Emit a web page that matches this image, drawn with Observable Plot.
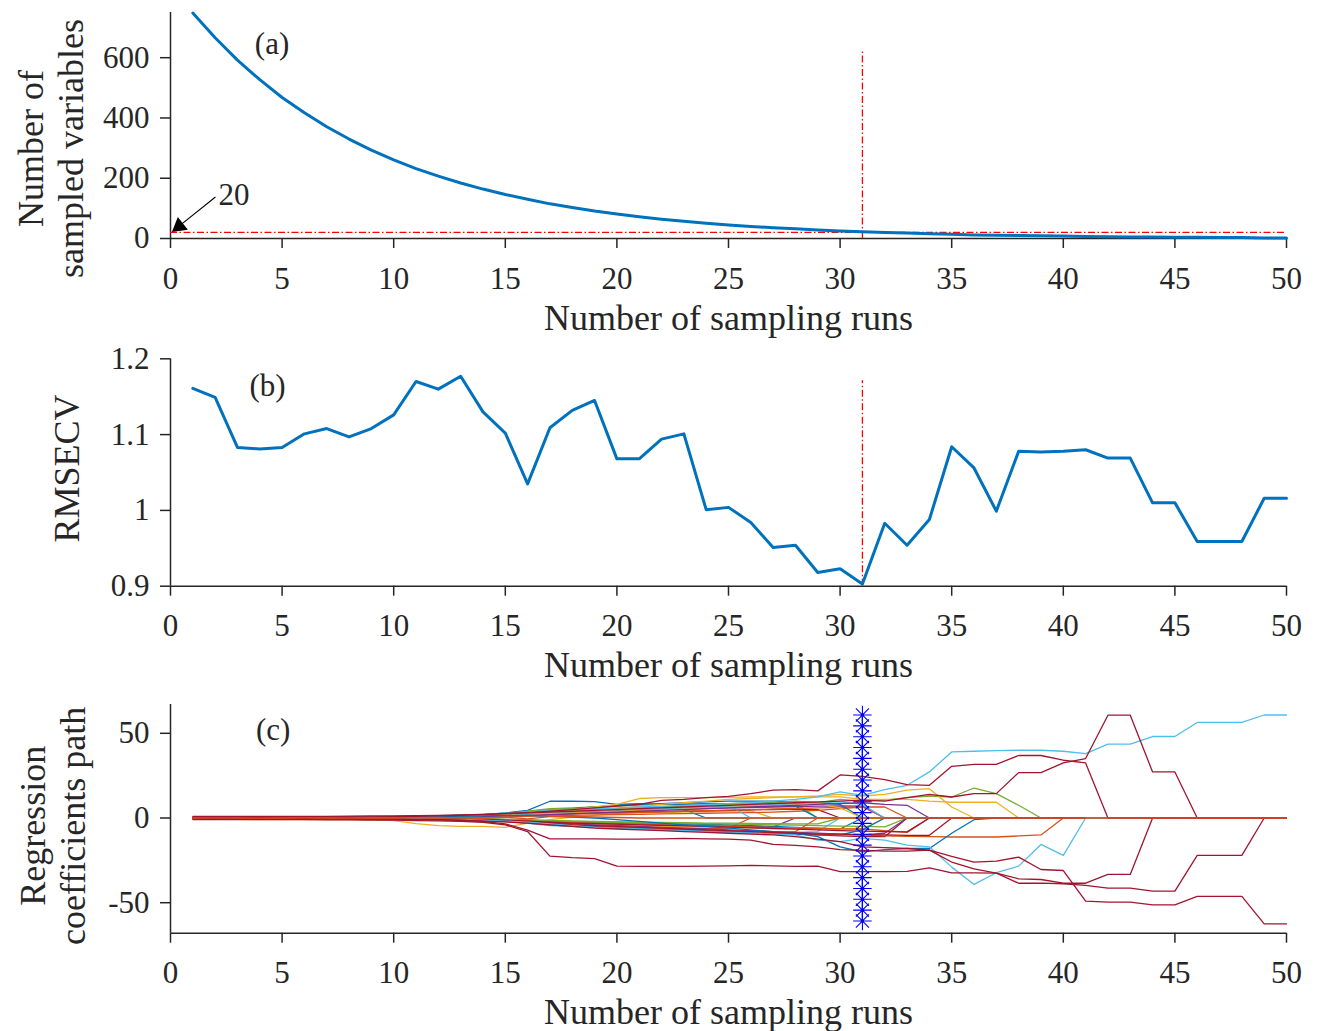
<!DOCTYPE html>
<html><head><meta charset="utf-8">
<script src="https://cdn.jsdelivr.net/npm/d3@7"></script>
<script src="https://cdn.jsdelivr.net/npm/@observablehq/plot@0.6"></script>
<style>
body{margin:0;background:#fff;}
#chart svg{display:block;}
</style></head><body><div id="chart"></div>
<script>
// ---------------- DATA ----------------
const runs = [1,2,3,4,5,6,7,8,9,10,11,12,13,14,15,16,17,18,19,20,21,22,23,24,25,26,27,28,29,30,31,32,33,34,35,36,37,38,39,40,41,42,43,44,45,46,47,48,49,50];
const xTicks = [0,5,10,15,20,25,30,35,40,45,50];

// (a) number of sampled variables per run
const nVars = [748,666,592,527,468,417,371,330,293,261,232,207,184,164,146,130,115,103,91,81,72,64,57,51,45,40,36,32,28,25,22,20,18,16,14,12,11,10,9,8,7,6,5,5,4,4,3,3,2,2];
const yTicksA = [0,200,400,600];
const optRun = 31;
const refLevel = 20;
const optLineTopA = 624;

// (b) RMSECV per run
const rmsecv = [1.161,1.149,1.083,1.081,1.083,1.101,1.108,1.097,1.108,1.126,1.170,1.160,1.177,1.130,1.102,1.035,1.109,1.132,1.145,1.068,1.068,1.094,1.101,1.001,1.004,0.984,0.951,0.954,0.918,0.923,0.903,0.983,0.954,0.988,1.084,1.056,0.999,1.078,1.077,1.078,1.080,1.069,1.069,1.010,1.010,0.959,0.959,0.959,1.016,1.016];
const yTicksB = [0.9,1,1.1,1.2];
const optLineTopB = 1.171;

// (c) regression coefficient paths (one array per variable)
const coefPaths = [
 [0,0.1,0.1,0.1,0.2,0.2,0.2,0.3,0.3,0.4, 0.5,0.6,0.8,1,1.5,2.2,3,3.5,4,4.5, 5,5.2,5,0,0,0,0,0,0,0, 0,0,0,0,0,0,0,0,0,0, 0,0,0,0,0,0,0,0,0,0],
 [0,-0.1,-0.1,-0.1,-0.2,-0.2,-0.3,-0.3,-0.4,-0.5, -0.6,-0.8,-1,-1.3,-1.8,-2.5,-3.5,-4,-4.5,-5, -5.5,-5.8,-6,-6.2,-6,0,0,0,0,0, 0,0,0,0,0,0,0,0,0,0, 0,0,0,0,0,0,0,0,0,0],
 [-0.8,-0.8,-0.8,-0.9,-0.9,-0.9,-1,-1,-1.1,-1.5, -3.3,-4.5,-4.9,-5,-5.5,-3,-1,0.5,1.5,2.5, 3,3.2,3.5,3.8,4,4.2,0,0,0,0, 0,0,0,0,0,0,0,0,0,0, 0,0,0,0,0,0,0,0,0,0],
 [0,0,-0.1,-0.1,-0.1,-0.2,-0.2,-0.2,-0.3,-0.3, -0.4,-0.5,-0.6,-0.8,-1.2,-1.8,-2.5,-3,-3.2,-3.5, -3.8,-4,-4.2,-4.5,-4.8,-5,-5.2,0,0,0, 0,0,0,0,0,0,0,0,0,0, 0,0,0,0,0,0,0,0,0,0],
 [0.1,0.1,0.1,0.2,0.2,0.3,0.3,0.4,0.5,0.6, 0.8,1,1.3,1.8,2.8,4,5.5,6,6.5,7, 7.5,8,8,8.5,8.5,9,9,8.5,0,0, 0,0,0,0,0,0,0,0,0,0, 0,0,0,0,0,0,0,0,0,0],
 [0,-0.1,-0.1,-0.2,-0.2,-0.3,-0.3,-0.4,-0.5,-0.6, -0.7,-0.9,-1.1,-1.5,-2.2,-3.2,-4.5,-5,-5.5,-6, -6.5,-7,-7,-7.5,-7.5,-8,-8,-8.5,-8,0, 0,0,0,0,0,0,0,0,0,0, 0,0,0,0,0,0,0,0,0,0],
 [0,0,0.1,0.1,0.1,0.2,0.2,0.2,0.3,0.3, 0.4,0.5,0.6,0.8,1.1,1.6,2.2,2.6,3,3.2, 3.5,3.8,4,4.2,4.5,4.8,5,5.2,5,0, 0,0,0,0,0,0,0,0,0,0, 0,0,0,0,0,0,0,0,0,0],
 [0,0,0,-0.1,-0.1,-0.1,-0.1,-0.2,-0.2,-0.3, -0.3,-0.4,-0.5,-0.7,-1,-1.4,-2,-2.3,-2.5,-2.8, -3,-3.2,-3.5,-3.8,-4,-4.5,-5,-5.5,-6,-6.5, 0,0,0,0,0,0,0,0,0,0, 0,0,0,0,0,0,0,0,0,0],
 [0,0,0,0,0.1,0.1,0.1,0.1,0.2,0.2, 0.2,0.3,0.4,0.5,0.7,1,1.3,1.6,1.8,2, 2.2,2.4,2.6,2.8,3,3.2,3.5,4,4.5,5.5, 6.5,6.5,0,0,0,0,0,0,0,0, 0,0,0,0,0,0,0,0,0,0],
 [0,0,-0.1,-0.1,-0.1,-0.2,-0.2,-0.3,-0.3,-0.4, -0.5,-0.6,-0.8,-1.1,-1.6,-2.4,-3.2,-3.8,-4.2,-4.5, -4.8,-5,-5.2,-5.5,-5.5,-5.8,-6,-6,-6.2,-6.5, -6.5,0,0,0,0,0,0,0,0,0, 0,0,0,0,0,0,0,0,0,0],
 [0,0.1,0.1,0.1,0.1,0.2,0.2,0.2,0.3,0.4, 0.5,0.6,0.7,0.9,1.3,1.9,2.8,3.3,3.8,4.2, 4.6,5,5.3,5.6,6,6.2,6.5,6.8,7,7.2, 7,0,0,0,0,0,0,0,0,0, 0,0,0,0,0,0,0,0,0,0],
 [0,0,0,-0.1,-0.1,-0.1,-0.2,-0.2,-0.2,-0.3, -0.3,-0.4,-0.5,-0.6,-0.9,-1.3,-1.8,-2.1,-2.4,-2.6, -2.8,-3,-3.2,-3.4,-3.5,-3.8,-4,-4.2,-4.5,-4.8, -5,-5.2,0,0,0,0,0,0,0,0, 0,0,0,0,0,0,0,0,0,0],
 [0,0,0.1,0.1,0.1,0.2,0.2,0.3,0.3,0.4, 0.5,0.6,0.8,1,1.4,2,3,4,5,5.5, 6,6.5,7,7.2,7.5,0,0,0,0,0, 0,0,0,0,0,0,0,0,0,0, 0,0,0,0,0,0,0,0,0,0],
 [0,-0.1,-0.1,-0.1,-0.2,-0.2,-0.2,-0.3,-0.3,-0.4, -0.5,-0.6,-0.8,-1,-1.4,-2.2,-3.5,-4.5,-5,-5.5, -6,-6.5,-7,-7.5,-8,-8.5,-9,-9.5,-10,-10.5, -11,-11,0,0,0,0,0,0,0,0, 0,0,0,0,0,0,0,0,0,0],
 [0.1,0.2,0.2,0.3,0.3,0.4,0.5,0.6,0.7,0.8, 1,1.2,1.5,2,3,4.5,9.9,9.9,9.7,8, 8.5,8,8,8.5,8.5,8,9,7,0,0, 0,0,0,0,0,0,0,0,0,0, 0,0,0,0,0,0,0,0,0,0],
 [0,0,-0.1,-0.1,-0.1,-0.1,-0.2,-0.2,-0.3,-0.3, -0.4,-0.5,-0.6,-0.8,-1.1,-1.6,-2.3,-2.8,-3.2,-3.5, -3.8,-4,-4.3,-4.6,-5,-5.3,-5.6,-6,-6.2,-6.4, -6.5,-7.5,-8.5,0,0,0,0,0,0,0, 0,0,0,0,0,0,0,0,0,0],
 [0,0,0,0.1,0.1,0.1,0.1,0.2,0.2,0.3, 0.3,0.4,0.5,0.7,1,1.4,2,2.4,2.8,3, 3.3,3.6,4,4.3,4.6,5,5.3,5.6,6,6.3, 6.5,0,0,0,0,0,0,0,0,0, 0,0,0,0,0,0,0,0,0,0],
 [0,0.1,0.1,0.1,0.2,0.2,0.3,0.3,0.4,0.5, 0.6,0.8,1,1.3,2,3,4.5,5.5,6.5,7.5, 8,8.5,9,9.5,10,10,10,9.5,9,8, 0,0,0,0,0,0,0,0,0,0, 0,0,0,0,0,0,0,0,0,0],
 [0,-0.1,-0.1,-0.1,-0.2,-0.2,-0.3,-0.3,-0.4,-0.5, -0.6,-0.8,-1,-1.4,-2,-3,-4,-5,-5.5,-6, -6.5,-7,-7.5,-8,-8.5,-9,-9,-8,0,0, 0,0,0,0,0,0,0,0,0,0, 0,0,0,0,0,0,0,0,0,0],
 [0,0,0.1,0.1,0.1,0.2,0.2,0.2,0.3,0.3, 0.4,0.5,0.6,0.8,1.2,1.8,2.5,3,3.5,4, 4.5,5,5.5,6,6.5,7,7.5,8,8.5,6, 0,0,0,0,0,0,0,0,0,0, 0,0,0,0,0,0,0,0,0,0],
 [0,0,-0.1,-0.1,-0.1,-0.2,-0.2,-0.3,-0.3,-0.4, -0.5,-0.6,-0.8,-1.1,-1.6,-2.2,-3,-3.5,-4,-4.5, -5,-5.5,-6,-6.5,-7,-7.5,-8,-8.5,-9,-9.5, -10,-9,0,0,0,0,0,0,0,0, 0,0,0,0,0,0,0,0,0,0],
 [0,0,0,-0.1,-0.1,-0.1,-0.1,-0.2,-0.2,-0.2, -0.3,-0.3,-0.4,-0.5,-0.7,-1,-1.4,-1.7,-2,-2.2, -2.4,-2.6,-2.8,-3,-3,-3.2,-3.4,-3.5,-3.5,0, 0,0,0,0,0,0,0,0,0,0, 0,0,0,0,0,0,0,0,0,0],
 [0,0.1,0.1,0.1,0.2,0.2,0.2,0.3,0.3,0.4, 0.5,0.6,0.8,1,1.5,2.2,3.2,3.8,4.3,4.8, 5.2,5.6,6,6.5,7,7.5,8,8.5,9,9.5, 8,0,0,0,0,0,0,0,0,0, 0,0,0,0,0,0,0,0,0,0],
 [0,0,-0.1,-0.1,-0.2,-0.2,-0.2,-0.3,-0.3,-0.4, -0.5,-0.6,-0.7,-0.9,-1.3,-1.8,-2.5,-3,-3.3,-3.6, -4,-4.3,-4.6,-5,-5.4,-5.8,-6.2,-6.6,-7,-7.4, -7.8,-8,-8.2,0,0,0,0,0,0,0, 0,0,0,0,0,0,0,0,0,0],
 [0,-0.1,-0.1,-0.1,-0.2,-0.2,-0.3,-0.3,-0.4,-0.5, -0.6,-0.7,-0.9,-1.2,-1.8,-2.6,-3.8,-4.5,-5,-5.5, -6,-6.5,-7,-7.5,-8,-8.5,-9,-9.5,-10,-10, -7,0,0,0,0,0,0,0,0,0, 0,0,0,0,0,0,0,0,0,0],
 [0,-0.1,-0.1,-0.2,-0.2,-0.3,-0.3,-0.4,-0.5,-0.6, -0.8,-1,-1.3,-1.6,-2,-2.8,-3.5,-4,-4.5,-5, -5.5,-6,-6.5,-7,-7.5,-8,-8.5,-9,-9.5,-10, -10,-10.5,-10.8,-11,-11.2,-11.2,-11.2,-10.6,-10,0, 0,0,0,0,0,0,0,0,0,0],
 [-0.1,0,0,0.1,0.1,0.1,0.2,0.2,0.3,0.3, 0.4,0.5,0.7,0.9,1.2,1.6,2,2.5,3,3.5, 4,4.5,5,5.5,6,6.5,7,7.5,8,8.5, 9,8,7.5,0,0,0,0,0,0,0, 0,0,0,0,0,0,0,0,0,0],
 [0.1,0.1,0.2,0.2,0.2,0.3,0.3,0.4,0.5,0.6, 0.8,1,1.3,1.7,2.5,4,5,5.5,5,5.5, 6,6.5,7,7.5,8,8,9,10,9,11, 10,10.5,12,13,12.4,17.7,14.4,7.5,0,0, 0,0,0,0,0,0,0,0,0,0],
 [-0.1,-0.1,-0.1,0,0,0.1,0.1,0.2,0.3,0.4, 0.6,0.8,1.1,1.5,2,2.8,3.5,4,4.5,5, 7,8,9,10,11,11.5,12,12.5,13,14, 13,14,16.4,17.3,6.5,0,0,0,0,0, 0,0,0,0,0,0,0,0,0,0],
 [0,0,0.1,0.1,0.2,0.2,0.3,0.3,0.4,0.5, 0.7,0.9,1.2,1.6,2.2,3,4,5,6.5,8, 11.5,12,12,12,12.2,12.5,12.5,12.5,12.5,12.5, 11,11,11,10,9.3,9.3,9.3,0,0,0, 0,0,0,0,0,0,0,0,0,0],
 [0.1,0.1,0.1,0.2,0.2,0.2,0.3,0.3,0.4,0.5, 0.6,0.8,1,1.2,1.5,1.5,1,0.5,0,-1, -2,-3,-4,-5,-6,-7,-8,-9,-11,-17, -20,-18.7,-18,-18,-9,-1,0,0,0,0, 0,0,0,0,0,0,0,0,0,0],
 [0,0,-0.1,-0.1,-0.2,-0.2,-0.3,-0.3,-0.4,-0.5, -0.6,-0.7,-0.9,-1.1,-1.5,-2,-3,-4,-4.5,-5, -5.5,-6,-6.5,-7,-7.5,-8,-8.5,-9,-9.5,-9.5, -9.8,-10,-10.2,-10.2,0,0,0,0,0,0, 0,0,0,0,0,0,0,0,0,0],
 [0.2,0.2,0.3,0.3,0.4,0.4,0.5,0.6,0.7,0.9, 1.1,1.4,1.8,2.2,2.8,3.5,4.5,5,5.5,6, 6.5,7,7.5,8,8.5,9,10,11,12.5,15.4, 13.4,16.8,19.3,27.2,39,39.4,39.8,40,40,39.4, 38,43.6,43.6,48.1,48.1,56.4,56.4,56.4,60.8,60.8],
 [0,0,-0.1,-0.1,-0.1,-0.2,-0.2,-0.3,-0.4,-0.5, -0.6,-0.8,-1,-1.3,-1.8,-2.5,-3.5,-4.5,-5.5,-6, -6.5,-7,-7.5,-8,-8.5,-9,-9.5,-10,-13,-14, -12,-13,-16,-17,-29,-39.2,-32.3,-28.4,-15.6,-22.1, 0,0,0,0,0,0,0,0,0,0],
 [-0.1,-0.1,-0.2,-0.2,-0.3,-0.3,-0.4,-0.5,-0.6,-0.7, -0.9,-1.1,-1.4,-1.8,-2.3,-3,-4,-5,-6,-6.5, -7,-7.5,-8,-8.5,-9,-9.5,-10,-11,-12.5,-14, -17,-17.5,-18,-19,-22.7,-26,-25.5,-23.1,-30.4,-31, -49.1,-49.7,-49.7,-51.3,-51.3,-46.3,-46.3,-46.3,-62.5,-62.5],
 [-0.1,-0.1,-0.1,-0.2,-0.2,-0.3,-0.3,-0.4,-0.5,-0.6, -0.8,-1,-1.3,-2,-3.5,-7.2,-12.3,-12.3,-12.3,-12.5, -12.5,-12.3,-12,-12.3,-12.5,-13,-15.6,-16.2,-17,-18.7, -19.1,-19.5,-19.5,-19,-26,-30,-32.5,-35.9,-36.3,-38.5, -38.5,-33.3,-33.3,0,0,0,0,0,0,0],
 [-0.9,-0.9,-0.9,-1,-1,-1,-1.1,-1.1,-1.2,-1.3, -1.5,-1.7,-2,-2.5,-4,-8,-22.5,-23.4,-24,-28.4, -28.6,-28.6,-28.5,-28.4,-28.3,-28,-28.2,-28.5,-28.4,-31.6, -31.7,-31.7,-31.5,-29.4,-32.4,-32.4,-32.5,-38.5,-38.5,-38.8, -39.8,-41.4,-41.4,-43.2,-43.2,-22.1,-22.1,-22.1,0,0],
 [0.2,0.2,0.3,0.3,0.4,0.5,0.5,0.6,0.7,0.8, 1,1.3,1.6,2,2.6,3.2,4,5,6,7, 8,10.4,11,12,12.8,14.4,16.4,16.7,16,25.4, 24.6,22.7,19.7,19.3,30.5,31.7,31.7,36.9,36.9,34.1, 32.5,0,0,0,0,0,0,0,0,0],
 [0.9,0.9,0.9,0.9,1,1,1,1.1,1.2,1.3, 1.4,1.6,1.9,2.2,2.6,3,3.5,4,4.5,5, 5.5,6,6.5,7,7.5,8,8.5,9,9.5,10, 10.5,10,12,14,12.4,14.4,14.4,26.8,26.8,32.5, 35.1,60.7,60.7,27.2,27.2,0,0,0,0,0],
 [0,0.1,0,-0.1,0,0.1,0,-0.1,0.1,0, 0.2,-0.2,0.3,-0.3,0.5,-0.5,0.8,1,0.6,0.3, 0,0,0,0,0,0,0,0,0,0, 0,0,0,0,0,0,0,0,0,0, 0,0,0,0,0,0,0,0,0,0]
];
const coefColors = [
 "#0072BD","#D95319","#EDB120","#7E2F8E","#77AC30","#4DBEEE","#A2142F","#0072BD","#D95319","#EDB120",
 "#7E2F8E","#77AC30","#4DBEEE","#A2142F","#0072BD","#D95319","#D95319",
 "#0072BD","#D95319","#EDB120","#7E2F8E","#77AC30","#4DBEEE","#A2142F","#0072BD",
 "#D95319","#7E2F8E","#77AC30",
 "#EDB120","#EDB120","#0072BD","#A2142F","#4DBEEE","#4DBEEE","#A2142F","#A2142F","#A2142F","#A2142F",
 "#A2142F","#D95319"
];
const starValues = [60.8,54.4,48.0,41.6,35.2,28.8,22.4,16.0,9.6,3.2,-3.2,-9.6,-16.0,-22.4,-28.8,-35.2,-41.6,-48.0,-54.4,-60.8];
const yTicksC = [-50,0,50];
const yDomainC = [-68,67];

// annotation text + anchor positions (data units)
const panelLabels = [{t:"(a)", x:4.55, y:644}, {t:"(b)", x:4.35, y:1.1635}, {t:"(c)", x:4.6, y:52}];
const arrowA = {x1:2.0, y1:137, x2:0.3, y2:36, headX:0.39, headY:40.8, text:"20", tx:2.15, ty:143};

// ---------------- STYLE ----------------
const FONT = "'Liberation Serif','Times New Roman',Times,serif";
const AXC = "#262626";
const BLUE = "#0072BD";
const common = {width:1320, marginLeft:170, marginRight:34};
const baseStyle = {fontFamily: FONT, fontSize: "31px", color: AXC, background: "white", overflow: "visible"};

function axes(yTicks, yMin, fmt) {
  return [
    Plot.axisX({ticks: xTicks, tickSize: 10, tickPadding: 18, fontSize: 31, label: null, strokeWidth: 1.5}),
    Plot.axisY({ticks: yTicks, tickSize: 10, tickPadding: 11, fontSize: 31, label: null, strokeWidth: 1.5, tickFormat: fmt}),
    Plot.ruleY([yMin], {stroke: AXC, strokeWidth: 1.5}),
    Plot.ruleX([0], {stroke: AXC, strokeWidth: 1.5}),
    Plot.text(["Number of sampling runs"], {text: d => d, frameAnchor: "bottom", lineAnchor: "bottom", dy: 91, fontSize: 36, fill: AXC})
  ];
}
const fmt = d => String(d);
const rowsA = runs.map((r, i) => ({run: r, value: nVars[i]}));
const rowsB = runs.map((r, i) => ({run: r, value: rmsecv[i]}));
const rowsC = coefPaths.flatMap((vals, p) => vals.map((v, i) => ({run: runs[i], value: v, path: p, color: coefColors[p]})));
const rowsStar = starValues.map(v => ({run: optRun, value: v}));

const plotA = Plot.plot({
  ...common, height: 345, marginTop: 12, marginBottom: 107,
  style: baseStyle,
  x: {domain: [0, 50]},
  y: {domain: [0, 750]},
  marks: [
    ...axes(yTicksA, 0, fmt),
    Plot.ruleY([refLevel], {stroke: "#FF0000", strokeWidth: 1.3, strokeDasharray: "7,2.5,1.5,2.5"}),
    Plot.ruleX([optRun], {y1: 0, y2: optLineTopA, stroke: "#FF0000", strokeWidth: 1.3, strokeDasharray: "7,2.5,1.5,2.5"}),
    Plot.line(rowsA, {x: "run", y: "value", stroke: BLUE, strokeWidth: 3}),
    Plot.arrow([arrowA], {x1: "x1", y1: "y1", x2: "x2", y2: "y2", stroke: "black", strokeWidth: 1.1, headLength: 0}),
    Plot.dot([arrowA], {x: "headX", y: "headY", symbol: "triangle", r: 6, fill: "black", stroke: "none", rotate: 231.5}),
    Plot.text([arrowA], {x: "tx", y: "ty", text: "text", textAnchor: "start", fontSize: 31, fill: AXC}),
    Plot.text([panelLabels[0]], {x: "x", y: "y", text: "t", fontSize: 31, fill: AXC}),
    Plot.text(["Number of\nsampled variables"], {text: d => d, frameAnchor: "left", textAnchor: "middle", rotate: -90, lineAnchor: "middle", lineHeight: 1.1, dx: -120, dy: 23, fontSize: 36, fill: AXC})
  ]
});

const plotB = Plot.plot({
  ...common, height: 345, marginTop: 13.3, marginBottom: 104.3,
  style: baseStyle,
  x: {domain: [0, 50]},
  y: {domain: [0.9, 1.2]},
  marks: [
    ...axes(yTicksB, 0.9, fmt),
    Plot.ruleX([optRun], {y1: 0.9, y2: optLineTopB, stroke: "#FF0000", strokeWidth: 1.3, strokeDasharray: "7,2.5,1.5,2.5"}),
    Plot.line(rowsB, {x: "run", y: "value", stroke: BLUE, strokeWidth: 3}),
    Plot.text([panelLabels[1]], {x: "x", y: "y", text: "t", fontSize: 31, fill: AXC}),
    Plot.text(["RMSECV"], {text: d => d, frameAnchor: "left", textAnchor: "middle", rotate: -90, lineAnchor: "middle", dx: -103.5, dy: -4, fontSize: 36, fill: AXC})
  ]
});

const plotC = Plot.plot({
  ...common, height: 341, marginTop: 14, marginBottom: 98.3,
  style: baseStyle,
  x: {domain: [0, 50]},
  y: {domain: yDomainC},
  color: {type: "identity"},
  marks: [
    ...axes(yTicksC, yDomainC[0], fmt),
    Plot.line(rowsC, {x: "run", y: "value", z: "path", stroke: "color", strokeWidth: 1.3}),
    Plot.line(rowsStar, {x: "run", y: "value", stroke: "#0000FF", strokeWidth: 1.2}),
    Plot.dot(rowsStar, {x: "run", y: "value", symbol: "plus", r: 6, stroke: "#0000FF", strokeWidth: 1.1}),
    Plot.dot(rowsStar, {x: "run", y: "value", symbol: "times", r: 6, stroke: "#0000FF", strokeWidth: 1.1}),
    Plot.dot(rowsStar, {x: "run", y: "value", r: 1.8, fill: "#0000FF", stroke: "none"}),
    Plot.text([panelLabels[2]], {x: "x", y: "y", text: "t", fontSize: 31, fill: AXC}),
    Plot.text(["Regression\ncoefficients path"], {text: d => d, frameAnchor: "left", textAnchor: "middle", rotate: -90, lineAnchor: "middle", lineHeight: 1.1, dx: -118, dy: 7, fontSize: 36, fill: AXC})
  ]
});

const chart = document.getElementById("chart");
chart.append(plotA, plotB, plotC);
</script>
</body></html>
